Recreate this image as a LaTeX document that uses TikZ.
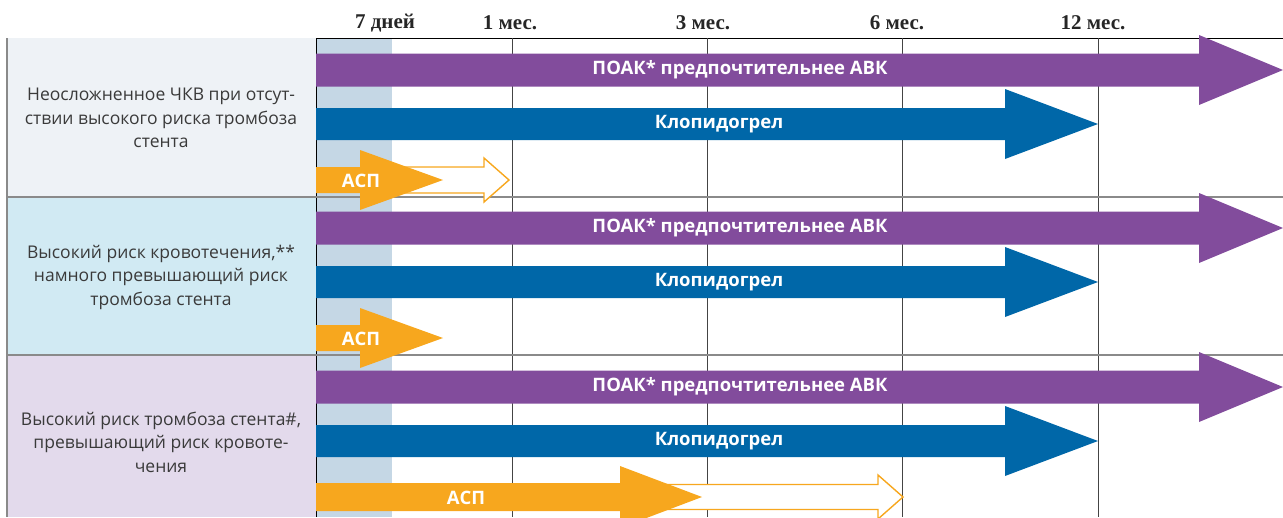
\documentclass[tikz,border=0pt]{standalone}
\usepackage{fontspec}
\setmainfont{Open Sans}
\newfontfamily\hdrfont{Liberation Serif}
\definecolor{cpurple}{HTML}{824C9C}
\definecolor{cblue}{HTML}{0067A8}
\definecolor{corange}{HTML}{F7A71E}
\definecolor{rowA}{HTML}{EEF2F6}
\definecolor{rowB}{HTML}{D1EAF3}
\definecolor{rowC}{HTML}{E3DAEC}
\definecolor{band}{HTML}{C5D7E5}
\definecolor{sepgray}{HTML}{8A8A8A}
\definecolor{gridgray}{HTML}{444444}
\definecolor{ltext}{HTML}{3A3A3A}
% color, x0, yc, xhead, xtip, halfbar, halfhead
\newcommand{\fatarrow}[7]{\fill[#1] (#2,#3-#6) -- (#4,#3-#6) -- (#4,#3-#7) -- (#5,#3) -- (#4,#3+#7) -- (#4,#3+#6) -- (#2,#3+#6) -- cycle;}
\newcommand{\openarrow}[7]{\draw[#1,line width=1.4pt,line join=miter,fill=white] (#2,#3-#6) -- (#4,#3-#6) -- (#4,#3-#7) -- (#5,#3) -- (#4,#3+#7) -- (#4,#3+#6) -- (#2,#3+#6) -- cycle;}
\tikzset{
  hdr/.style={font=\hdrfont\bfseries\fontsize{21}{22}\selectfont, text=black!85, inner sep=0pt},
  lbl/.style={font=\bfseries\fontsize{18.5}{20}\selectfont, text=white, inner sep=0pt},
  ltxt/.style={font=\fontsize{17.5}{23.5}\selectfont, text=ltext, align=center, inner sep=0pt},
  gridline/.style={draw=gridgray, line width=1pt},
  sepline/.style={draw=sepgray, line width=1.8pt}
}
\begin{document}
\begin{tikzpicture}[x=1pt,y=-1pt]
\useasboundingbox (0,0) rectangle (1283,517);
% left fills
\fill[rowA] (7,38) rectangle (316,197);
\fill[rowB] (7,197) rectangle (316,355);
\fill[rowC] (7,355) rectangle (316,517);
% 7-day band
\fill[band] (316,38) rectangle (392,517);
% grid
\draw[draw=black, line width=1pt] (316,38) -- (1283,38);
\draw[draw=black, line width=1pt] (316,38) -- (316,517);
\foreach \gx in {512,707,902,1098} { \draw[gridline] (\gx,38) -- (\gx,517); }
\draw[sepline] (7,38) -- (7,517);
\draw[sepline] (7,197) -- (1283,197);
\draw[sepline] (7,355) -- (1283,355);
% header
\node[hdr] (h7) at (385,23) {7 дней};
\node[hdr] (h1) at (510,23) {1 мес.};
\node[hdr] (h3) at (703,23) {3 мес.};
\node[hdr] (h6) at (897,23) {6 мес.};
\node[hdr] (h12) at (1093,23) {12 мес.};
% left texts
\node[ltxt] (t1) at (161,118) {Неосложненное ЧКВ при отсут-\\ствии высокого риска тромбоза\\стента};
\node[ltxt] (t2) at (161,277) {Высокий риск кровотечения,**\\намного превышающий риск\\тромбоза стента};
\node[ltxt] (t3) at (161,442) {Высокий риск тромбоза стента\#,\\превышающий риск кровоте-\\чения};
% row 1
\fatarrow{cpurple}{316}{70}{1199}{1283}{16.5}{35}
\fatarrow{cblue}{316}{124}{1005}{1098}{16}{35}
\openarrow{corange}{370}{180}{484}{509}{13}{22}
\fatarrow{corange}{316}{180}{360}{443}{13}{30}
\node[lbl] (p1) at (740,70) {ПОАК* предпочтительнее АВК};
\node[lbl] (b1) at (719,124) {Клопидогрел};
\node[lbl] (o1) at (361,181) {АСП};
% row 2
\fatarrow{cpurple}{316}{228}{1199}{1283}{16.5}{35}
\fatarrow{cblue}{316}{282}{1005}{1098}{16}{35}
\fatarrow{corange}{316}{338}{360}{443}{13}{30}
\node[lbl] (p2) at (740,228) {ПОАК* предпочтительнее АВК};
\node[lbl] (b2) at (719,282) {Клопидогрел};
\node[lbl] (o2) at (361,339) {АСП};
% row 3
\fatarrow{cpurple}{316}{387}{1199}{1283}{16.5}{35}
\fatarrow{cblue}{316}{441}{1005}{1098}{16}{35}
\openarrow{corange}{640}{497}{878}{903}{12.5}{22}
\fatarrow{corange}{316}{497}{620}{702}{14}{31}
\node[lbl] (p3) at (740,387) {ПОАК* предпочтительнее АВК};
\node[lbl] (b3) at (719,441) {Клопидогрел};
\node[lbl] (o3) at (466,498) {АСП};
\end{tikzpicture}
\end{document}
